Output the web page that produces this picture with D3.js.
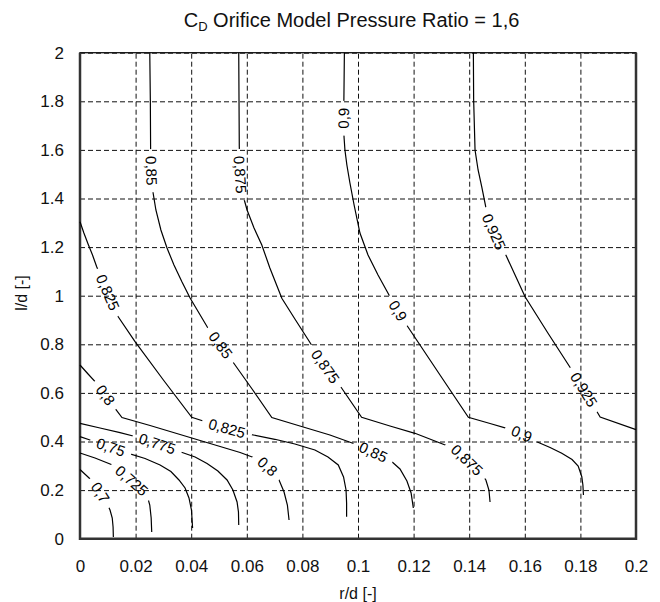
<!DOCTYPE html>
<html>
<head>
<meta charset="utf-8">
<script src="https://cdn.jsdelivr.net/npm/d3@7"></script>
<style>
body { margin: 0; background: #fff; }
svg { display: block; font-family: "Liberation Sans", Arial, sans-serif; }
.grid line { stroke: #111; stroke-width: 1; stroke-dasharray: 5,3; }
.grid path { display: none; }
.tick-labels path, .tick-labels line { display: none; }
.tick-labels text { font-size: 17px; fill: #111; }
.contour { fill: none; stroke: #000; stroke-width: 1.2; }
.clabel { font-size: 15px; fill: #000; }
</style>
</head>
<body>
<div id="chart"></div>
<script>
(function(){

// contour levels and the traced iso-lines, [r/d, l/d]
var levels = [0.7, 0.725, 0.75, 0.775, 0.8, 0.825, 0.85, 0.875, 0.9, 0.925];

var line070 = [[0,0.2848],[0.0025,0.258],[0.0048,0.2333],[0.0072,0.1922],[0.0094,0.151],[0.0108,0.1181],[0.0116,0.0852],[0.0119,0.0481],[0.012,0.007]];
var line0725 = [[0,0.3527],[0.0054,0.3321],[0.0126,0.2992],[0.0183,0.2416],[0.024,0.184],[0.0251,0.1387],[0.0256,0.0852],[0.0258,0.0276]];
var line075 = [[0,0.4198],[0.0036,0.4062],[0.0108,0.3774],[0.0174,0.3514],[0.0234,0.33],[0.0288,0.3033],[0.0327,0.2765],[0.0356,0.2416],[0.0378,0.2086],[0.0392,0.1675],[0.0401,0.1181],[0.0405,0.044]];
var line0775 = [[0,0.4749],[0.0072,0.4556],[0.0144,0.4362],[0.0198,0.4206],[0.0276,0.3918],[0.036,0.358],[0.0414,0.3362],[0.0457,0.3095],[0.0496,0.2786],[0.0529,0.2416],[0.055,0.2004],[0.0565,0.151],[0.057,0.1099],[0.0571,0.0564]];
var line080 = [[0,0.7148],[0.0029,0.6778],[0.006,0.6395],[0.0094,0.5872],[0.0126,0.5366],[0.0151,0.4988],[0.0252,0.4658],[0.036,0.4288],[0.0468,0.3918],[0.0576,0.3547],[0.0629,0.3321],[0.0665,0.3074],[0.0694,0.2745],[0.0716,0.2416],[0.0734,0.1922],[0.0746,0.1387],[0.0752,0.077]];
var line0825 = [[0,1.3045],[0.0014,1.258],[0.0029,1.2128],[0.0045,1.1675],[0.006,1.1193],[0.0079,1.0687],[0.0099,1.0152],[0.0119,0.9617],[0.0138,0.9123],[0.0198,0.8107],[0.03,0.6531],[0.0402,0.4996],[0.0468,0.4749],[0.0528,0.4543],[0.0612,0.4296],[0.0701,0.4091],[0.0773,0.3897],[0.0845,0.365],[0.0892,0.3362],[0.0929,0.3033],[0.0948,0.2539],[0.0957,0.2004],[0.0959,0.1469],[0.0959,0.0905]];
var line085 = [[0.0251,2],[0.0253,1.8054],[0.0254,1.6037],[0.0257,1.4967],[0.0263,1.4226],[0.0273,1.3527],[0.0291,1.2704],[0.0313,1.1963],[0.0338,1.1263],[0.0367,1.0564],[0.0396,0.9905],[0.046,0.8671],[0.0545,0.7354],[0.0619,0.6161],[0.069,0.4988],[0.0791,0.4638],[0.0899,0.4267],[0.0989,0.3897],[0.1054,0.3568],[0.1119,0.3198],[0.1151,0.2869],[0.1176,0.2374],[0.1191,0.1881],[0.1199,0.1263]];
var line0875 = [[0.0571,2],[0.0572,1.8054],[0.0573,1.6132],[0.0576,1.4967],[0.0583,1.4267],[0.0601,1.3527],[0.0626,1.2786],[0.0654,1.2086],[0.0683,1.114],[0.0726,0.9893],[0.0773,0.9041],[0.0833,0.7971],[0.0881,0.7107],[0.0941,0.6202],[0.1013,0.4996],[0.1115,0.4638],[0.1205,0.4337],[0.1325,0.3802],[0.1373,0.3444],[0.141,0.3033],[0.1439,0.2724],[0.146,0.2416],[0.1471,0.2004],[0.1475,0.151]];
var line090 = [[0.0951,2],[0.095,1.8877],[0.0949,1.7848],[0.0948,1.7025],[0.095,1.649],[0.0953,1.5996],[0.096,1.5379],[0.0971,1.4638],[0.0986,1.3732],[0.1007,1.258],[0.1036,1.1675],[0.1072,1.0852],[0.1115,0.9959],[0.1144,0.937],[0.1175,0.8794],[0.1223,0.7971],[0.1295,0.6737],[0.1397,0.4996],[0.1475,0.4741],[0.1535,0.4543],[0.1589,0.4309],[0.1643,0.3992],[0.1691,0.3753],[0.1733,0.3514],[0.177,0.3259],[0.1792,0.2992],[0.1805,0.2551],[0.1809,0.221],[0.1811,0.1798]];
var line0925 = [[0.1415,2],[0.1416,1.8054],[0.1421,1.5996],[0.1432,1.5173],[0.1445,1.4486],[0.1463,1.3457],[0.1489,1.2621],[0.1529,1.1745],[0.1565,1.0852],[0.1601,0.9959],[0.1683,0.8465],[0.1769,0.6942],[0.182,0.5996],[0.1871,0.5008],[0.2,0.4486]];

var contourLines = [line070, line0725, line075, line0775, line080, line0825, line085, line0875, line090, line0925];

// inline labels: [level, r/d, l/d] roughly where each label sits
var labelSpots = [
	[0.7, 0.0072, 0.188],
	[0.725, 0.018, 0.233],
	[0.75, 0.0108, 0.369],
	[0.775, 0.0276, 0.383],
	[0.8, 0.0084, 0.585],
	[0.8, 0.0672, 0.296],
	[0.825, 0.0083, 1.006],
	[0.825, 0.0528, 0.454],
	[0.85, 0.0254, 1.514],
	[0.85, 0.0493, 0.785],
	[0.85, 0.1043, 0.33],
	[0.875, 0.0576, 1.497],
	[0.875, 0.0881, 0.708],
	[0.875, 0.1391, 0.324],
	[0.9, 0.0948, 1.73],
	[0.9, 0.1133, 0.93],
	[0.9, 0.1589, 0.43],
	[0.925, 0.1486, 1.262],
	[0.925, 0.1799, 0.605]
];

var xTicks = [0, 0.02, 0.04, 0.06, 0.08, 0.1, 0.12, 0.14, 0.16, 0.18, 0.2];
var yTicks = [0, 0.2, 0.4, 0.6, 0.8, 1, 1.2, 1.4, 1.6, 1.8, 2];

var W = 660, H = 602;
var margin = {top: 52.7, left: 80};
var width = 556, height = 486;

var commaFmt = d3.formatLocale({decimal: ",", thousands: ".", grouping: [3], currency: ["", ""]}).format("~g");

var svg = d3.select('#chart').append('svg')
	.attr('width', W)
	.attr('height', H);

var x = d3.scaleLinear().domain([0, 0.2]).range([0, width]);
var y = d3.scaleLinear().domain([0, 2]).range([height, 0]);

var g = svg.append('g')
	.attr('transform', 'translate(' + margin.left + ',' + margin.top + ')');

// dashed grid
g.append('g')
	.attr('class', 'grid')
	.attr('transform', 'translate(0,' + height + ')')
	.call(d3.axisBottom(x).tickValues(xTicks).tickSize(-height).tickFormat(''));
g.append('g')
	.attr('class', 'grid')
	.call(d3.axisLeft(y).tickValues(yTicks).tickSize(-width).tickFormat(''));

// tick labels
g.append('g')
	.attr('class', 'tick-labels')
	.attr('transform', 'translate(0,' + height + ')')
	.call(d3.axisBottom(x).tickValues(xTicks).tickSize(0).tickPadding(21).tickFormat(d3.format('~g')));
g.append('g')
	.attr('class', 'tick-labels')
	.call(d3.axisLeft(y).tickValues(yTicks).tickSize(0).tickPadding(16).tickFormat(d3.format('~g')));

// frame: thin top, heavier left/bottom/right
g.append('rect')
	.attr('width', width)
	.attr('height', height)
	.attr('fill', 'none')
	.attr('stroke', '#111')
	.attr('stroke-width', 1.3);
g.append('path')
	.attr('d', 'M0,0V' + height + 'H' + width + 'V0')
	.attr('fill', 'none')
	.attr('stroke', '#333')
	.attr('stroke-width', 2.5);

var line = d3.line()
	.x(function(d) { return x(d[0]); })
	.y(function(d) { return y(d[1]); });

var defs = svg.append('defs');
var masks = levels.map(function(v, i) {
	var m = defs.append('mask')
		.attr('id', 'gap' + i)
		.attr('maskUnits', 'userSpaceOnUse')
		.attr('x', -100).attr('y', -100)
		.attr('width', W + 200).attr('height', H + 200);
	m.append('rect')
		.attr('x', -100).attr('y', -100)
		.attr('width', W + 200).attr('height', H + 200)
		.attr('fill', '#fff');
	return m;
});

var paths = g.append('g').selectAll('path.contour')
	.data(contourLines)
	.enter()
	.append('path')
	.attr('class', 'contour')
	.attr('d', line)
	.attr('mask', function(d, i) { return 'url(#gap' + i + ')'; });

var labelLayer = g.append('g');

labelSpots.forEach(function(s) {
	var i = levels.indexOf(s[0]);
	var node = paths.nodes()[i];
	var total = node.getTotalLength();
	var tx = x(s[1]), ty = y(s[2]);
	var best = 0, bestD = Infinity;
	for (var t = 0; t <= total; t += 0.5) {
		var p = node.getPointAtLength(t);
		var dd = (p.x - tx) * (p.x - tx) + (p.y - ty) * (p.y - ty);
		if (dd < bestD) { bestD = dd; best = t; }
	}
	var c = node.getPointAtLength(best);
	var a = node.getPointAtLength(Math.max(0, best - 6));
	var b = node.getPointAtLength(Math.min(total, best + 6));
	var ang = Math.atan2(b.y - a.y, b.x - a.x) * 180 / Math.PI;
	if (ang > 90) ang -= 180;
	if (ang <= -90) ang += 180;

	var txt = labelLayer.append('text')
		.attr('class', 'clabel')
		.attr('text-anchor', 'middle')
		.attr('dy', '0.35em')
		.attr('transform', 'translate(' + c.x + ',' + c.y + ') rotate(' + ang + ')')
		.text(commaFmt(s[0]));

	var tw = txt.node().getComputedTextLength() + 14;
	masks[i].append('rect')
		.attr('x', -tw / 2).attr('y', -8)
		.attr('width', tw).attr('height', 16)
		.attr('transform', 'translate(' + c.x + ',' + c.y + ') rotate(' + ang + ')')
		.attr('fill', '#000');
});

// titles
var title = svg.append('text')
	.attr('x', 351.5)
	.attr('y', 26.7)
	.attr('text-anchor', 'middle')
	.style('font-size', '20px')
	.style('fill', '#111');
title.append('tspan').text('C');
title.append('tspan').attr('dy', 4).style('font-size', '13px').text('D');
title.append('tspan').attr('dy', -4).text(' Orifice Model Pressure Ratio = 1,6');

svg.append('text')
	.attr('x', margin.left + width / 2)
	.attr('y', 599)
	.attr('text-anchor', 'middle')
	.style('font-size', '16px')
	.style('fill', '#111')
	.text('r/d [-]');

svg.append('text')
	.attr('transform', 'translate(26.7,293) rotate(-90)')
	.attr('text-anchor', 'middle')
	.style('font-size', '16px')
	.style('fill', '#111')
	.text('l/d [-]');

})();
</script>
</body>
</html>
